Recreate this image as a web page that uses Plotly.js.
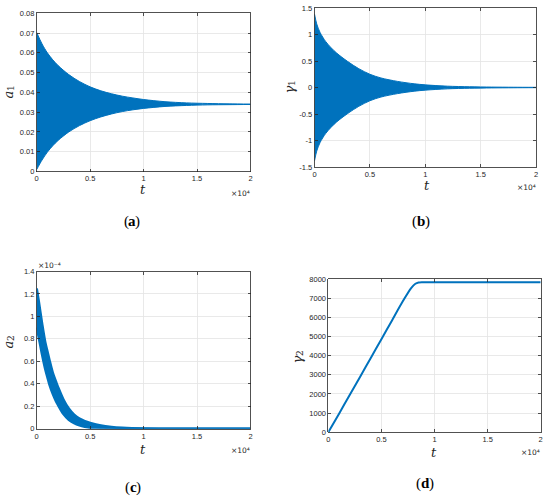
<!DOCTYPE html>
<html>
<head>
<meta charset="utf-8">
<script src="https://cdn.plot.ly/plotly-3.0.1.min.js"></script>
<style>html,body{margin:0;padding:0;background:#fff;}#chart{width:550px;height:499px;}</style>
</head>
<body>
<div id="chart"></div>
<script>
// time samples (t, real units)
var tEnv = [0, 500, 1000, 1500, 2000, 3000, 4000, 5000, 6000, 7000, 8000, 9000, 10000, 12000, 14000, 16000, 18000, 20000];
// (a) a1 envelope
var a1Upper = [0.0703, 0.0645, 0.0600, 0.0565, 0.0536, 0.0490, 0.0455, 0.0428, 0.0408, 0.0393, 0.0381, 0.0372, 0.0364, 0.0353, 0.0347, 0.0344, 0.0342, 0.0341];
var a1Lower = [0.0010, 0.0058, 0.0098, 0.0130, 0.0157, 0.0200, 0.0232, 0.0257, 0.0276, 0.0291, 0.0303, 0.0312, 0.0319, 0.0329, 0.0334, 0.0337, 0.0338, 0.0339];
// (b) gamma1 envelope
var tEnvB = [0, 200, 500, 1000, 1500, 2000, 3000, 4000, 5000, 6000, 7500, 9000, 10000, 12000, 14000, 16000, 18000, 20000];
var g1Upper = [1.385, 1.20, 1.04, 0.87, 0.75, 0.65, 0.49, 0.355, 0.25, 0.18, 0.115, 0.07, 0.05, 0.025, 0.014, 0.008, 0.005, 0.003];
var g1Lower = [-1.385, -1.20, -1.04, -0.87, -0.75, -0.65, -0.49, -0.355, -0.25, -0.18, -0.115, -0.07, -0.05, -0.025, -0.014, -0.008, -0.005, -0.003];
// (c) a2 band
var tEnvC = [0, 200, 500, 800, 1000, 1200, 1500, 1800, 2000, 2500, 3000, 3500, 4000, 4500, 5000, 6000, 7000, 8000, 10000, 15000, 20000];
var a2Upper = [1.25e-4, 1.13e-4, 0.94e-4, 0.77e-4, 0.69e-4, 0.61e-4, 0.50e-4, 0.42e-4, 0.37e-4, 0.26e-4, 0.18e-4, 0.125e-4, 0.09e-4, 0.068e-4, 0.052e-4, 0.028e-4, 0.015e-4, 0.008e-4, 0.002e-4, 0.0002e-4, 0];
var a2Lower = [0.90e-4, 0.81e-4, 0.66e-4, 0.53e-4, 0.46e-4, 0.39e-4, 0.31e-4, 0.245e-4, 0.21e-4, 0.13e-4, 0.08e-4, 0.05e-4, 0.03e-4, 0.017e-4, 0.008e-4, 0.002e-4, 0, 0, 0, 0, 0];
// (d) gamma2
var tD = [0, 1000, 2000, 3000, 4000, 5000, 6000, 7000, 7800, 8200, 8500, 8800, 9000, 10000, 15000, 20000];
var g2 = [0, 960, 1930, 2900, 3880, 4860, 5840, 6820, 7520, 7750, 7820, 7835, 7835, 7835, 7835, 7835];

var xTickVals = [0, 5000, 10000, 15000, 20000];
var xTickText = ['0', '0.5', '1', '1.5', '2'];
var bTickVals = [-1.5, -1, -0.5, 0, 0.5, 1, 1.5];
var bTickText = ['-1.5', '-1', '-0.5', '0', '0.5', '1', '1.5'];
var cTickVals = [0, 0.2e-4, 0.4e-4, 0.6e-4, 0.8e-4, 1.0e-4, 1.2e-4, 1.4e-4];
var cTickText = ['0', '0.2', '0.4', '0.6', '0.8', '1', '1.2', '1.4'];

var blue = '#0072BD';
var W = 550, H = 499;
function px(x){return x / W;}
function py(y){return 1 - y / H;}

function band(t, lo, up, xa, ya, lw){
  return [
    {x: t, y: lo, xaxis: xa, yaxis: ya, mode: 'lines', line: {color: blue, width: lw, shape: 'spline', smoothing: 0.9}, hoverinfo: 'skip', showlegend: false},
    {x: t, y: up, xaxis: xa, yaxis: ya, mode: 'lines', line: {color: blue, width: lw, shape: 'spline', smoothing: 0.9}, fill: 'tonexty', fillcolor: blue, hoverinfo: 'skip', showlegend: false}
  ];
}

var data = [].concat(
  band(tEnv, a1Lower, a1Upper, 'x', 'y', 1),
  band(tEnvB, g1Lower, g1Upper, 'x2', 'y2', 1),
  band(tEnvC, a2Lower, a2Upper, 'x3', 'y3', 2.5),
  [{x: tD, y: g2, xaxis: 'x4', yaxis: 'y4', mode: 'lines', line: {color: blue, width: 2, shape: 'spline', smoothing: 0.5}, showlegend: false}]
);

var tickFont = {family: 'Liberation Sans, Arial, sans-serif', size: 7.5, color: '#262626'};
function xAxis(dom, anchor){
  return {domain: dom, anchor: anchor, range: [0, 20000], tickvals: xTickVals, ticktext: xTickText,
    showline: true, mirror: 'ticks', linecolor: '#262626', linewidth: 0.8, ticks: 'inside', ticklen: 3, tickcolor: '#262626', tickwidth: 0.8,
    showgrid: true, gridcolor: '#e3e3e3', gridwidth: 0.8, zeroline: false, tickfont: tickFont, ticklabelstandoff: 0};
}
function yAxis(dom, anchor, range, extra){
  var a = {domain: dom, anchor: anchor, range: range,
    showline: true, mirror: 'ticks', linecolor: '#262626', linewidth: 0.8, ticks: 'inside', ticklen: 3, tickcolor: '#262626', tickwidth: 0.8,
    showgrid: true, gridcolor: '#e3e3e3', gridwidth: 0.8, zeroline: false, tickfont: tickFont};
  for (var k in extra) a[k] = extra[k];
  return a;
}

var xdA = [px(36.7), px(250.5)], ydA = [py(171.5), py(13.3)];
var xdB = [px(314.5), px(536)], ydB = [py(167), py(8)];
var xdC = [px(36.7), px(250.5)], ydC = [py(428.7), py(271.5)];
var xdD = [px(328.3), px(540.7)], ydD = [py(432.3), py(279)];

var serif = 'DejaVu Serif, Liberation Serif, serif';
function ann(x, y, text, opts){
  var a = {xref: 'paper', yref: 'paper', x: px(x), y: py(y), text: text, showarrow: false, xanchor: 'center', yanchor: 'middle', borderpad: 0};
  for (var k in opts) a[k] = opts[k];
  return a;
}
var labFont = {family: serif, size: 13, color: '#262626', style: 'italic'};
var subFont = {family: serif, size: 9, color: '#262626'};
var expFont = {family: 'DejaVu Sans, sans-serif', size: 7.5, color: '#262626'};
var parFont = {family: 'Liberation Serif, DejaVu Serif, serif', size: 15, color: '#000'};
var letFont = {family: 'Liberation Serif, DejaVu Serif, serif', size: 15, color: '#000', weight: 'bold'};

// y-axis label: rotated main symbol plus rotated subscript
function yLabel(x, y, sym, sub){
  return [
    ann(x, y + 2.5, sym, {font: labFont, textangle: -90}),
    ann(x + 3, y - 4, sub, {font: subFont, textangle: -90})
  ];
}
// panel label: normal parentheses, bold letter
function panel(x, y, letter, w){
  return [
    ann(x - w / 2 + 1.5, y, '(', {font: parFont, xanchor: 'right'}),
    ann(x, y, letter, {font: letFont}),
    ann(x + w / 2 - 1.5, y, ')', {font: parFont, xanchor: 'left'})
  ];
}

var annotations = [
  ann(143, 190, 't', {font: labFont}),
  ann(427, 186, 't', {font: labFont}),
  ann(143, 449, 't', {font: labFont}),
  ann(434, 452, 't', {font: labFont}),
  ann(250.7, 193, '×10⁴', {font: expFont, xanchor: 'right'}),
  ann(536.5, 187, '×10⁴', {font: expFont, xanchor: 'right'}),
  ann(250.7, 450, '×10⁴', {font: expFont, xanchor: 'right'}),
  ann(540.7, 452.7, '×10⁴', {font: expFont, xanchor: 'right'}),
  ann(36.7, 265.5, '×10⁻⁴', {font: expFont, xanchor: 'left'})
].concat(
  yLabel(8, 92, 'a', '1'),
  yLabel(289, 87, 'γ', '1'),
  yLabel(8, 342, 'a', '2'),
  yLabel(297, 357, 'γ', '2'),
  panel(132, 221, 'a', 7.5),
  panel(421, 221, 'b', 8.3),
  panel(133, 487, 'c', 6.7),
  panel(425, 483, 'd', 8.3)
);

var layout = {
  width: W, height: H,
  margin: {l: 0, r: 0, t: 0, b: 0},
  paper_bgcolor: '#fff', plot_bgcolor: '#fff',
  showlegend: false,
  xaxis: xAxis(xdA, 'y'),
  yaxis: yAxis(ydA, 'x', [0, 0.08], {dtick: 0.01, tick0: 0}),
  xaxis2: xAxis(xdB, 'y2'),
  yaxis2: yAxis(ydB, 'x2', [-1.5, 1.5], {tickvals: bTickVals, ticktext: bTickText}),
  xaxis3: xAxis(xdC, 'y3'),
  yaxis3: yAxis(ydC, 'x3', [0, 1.4e-4], {tickvals: cTickVals, ticktext: cTickText}),
  xaxis4: xAxis(xdD, 'y4'),
  yaxis4: yAxis(ydD, 'x4', [0, 8000], {dtick: 1000, tick0: 0, tickformat: 'd'}),
  annotations: annotations
};

Plotly.newPlot('chart', data, layout, {displayModeBar: false, staticPlot: true});
</script>
</body>
</html>
